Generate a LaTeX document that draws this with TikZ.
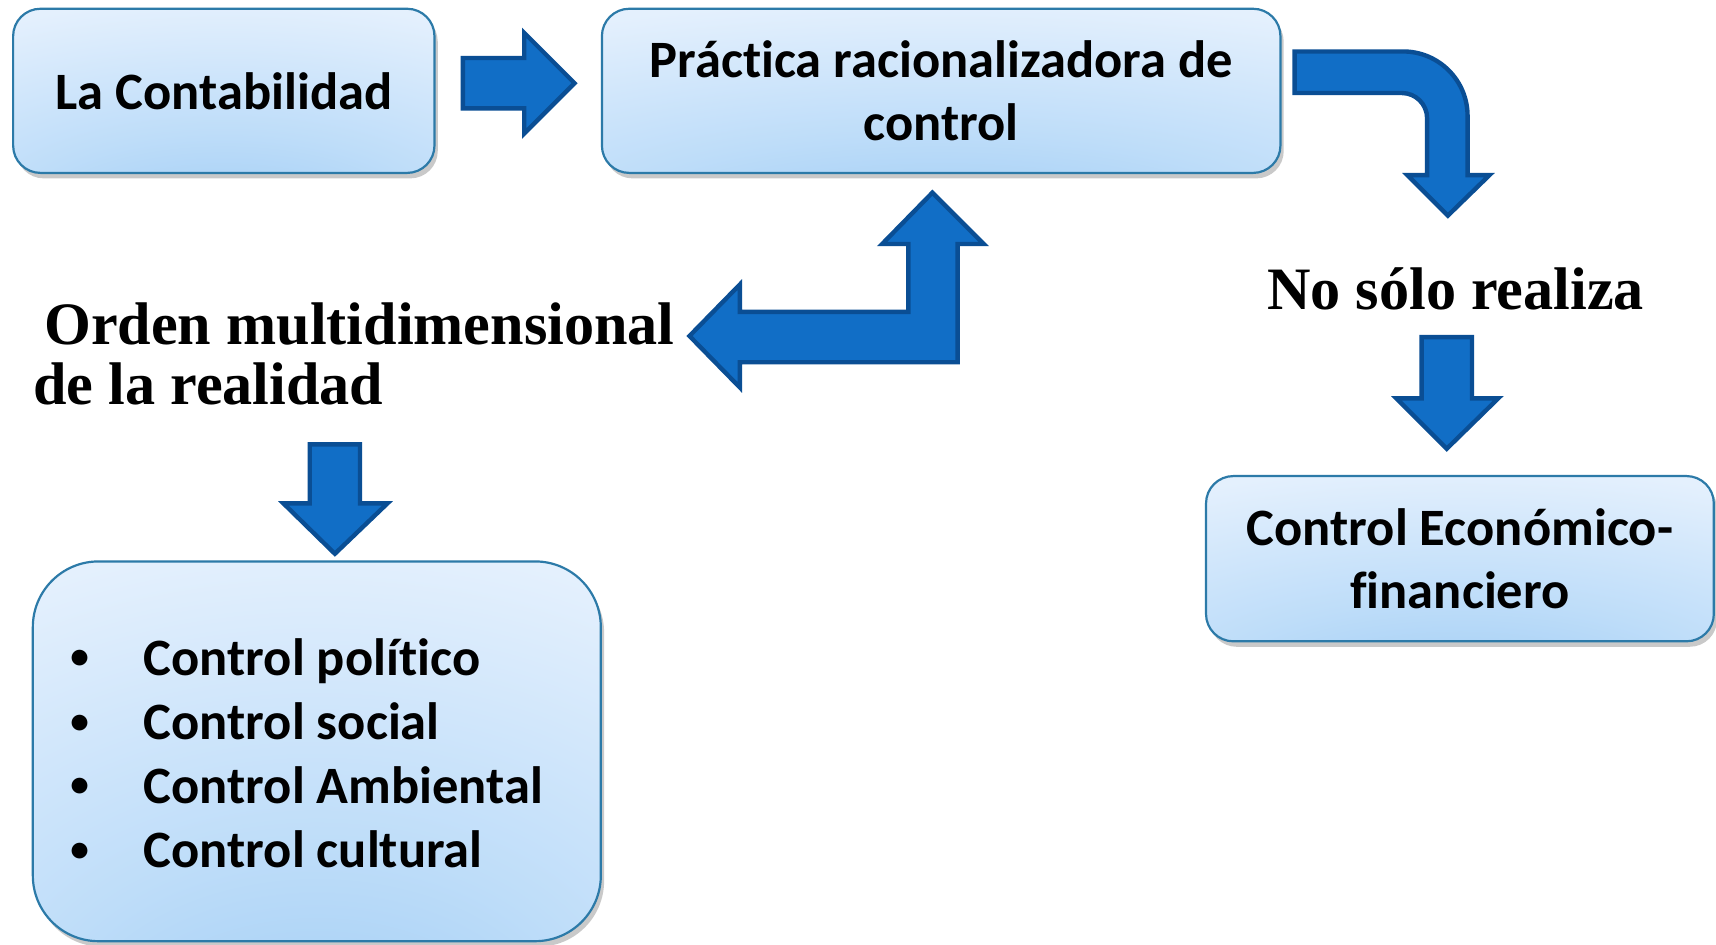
\documentclass[tikz,border=0pt]{standalone}
\usepackage{fontspec}
\setmainfont{Carlito}[Ligatures=NoCommon]
\newfontfamily\serifb{Liberation Serif}
\usetikzlibrary{shadows}
\definecolor{arrowfill}{RGB}{17,110,198}
\definecolor{arrowline}{RGB}{10,78,148}
\definecolor{boxline}{RGB}{44,122,168}
\definecolor{bmid}{RGB}{150,199,243}
\definecolor{bmidb}{RGB}{190,221,249}
\definecolor{blight}{RGB}{228,240,253}
\definecolor{bwhite}{RGB}{240,247,254}
\pgfdeclareradialshading{boxshade}{\pgfpoint{0bp}{-50bp}}{color(0bp)=(bmid); color(25bp)=(bmidb); color(52bp)=(blight); color(80bp)=(bwhite); color(100bp)=(bwhite)}
\begin{document}
\begin{tikzpicture}[x=0.5pt,y=-0.5pt,
  box/.style={draw=boxline, line width=1pt, rounded corners=12.5pt, shade, shading=boxshade,
    inner sep=0pt, align=center, font=\bfseries\fontsize{24}{29}\selectfont,
    drop shadow={shadow xshift=1.5pt, shadow yshift=-2.5pt, fill=black!60, opacity=0.35}},
  blockarrow/.style={fill=arrowfill, draw=arrowline, line width=2pt, line join=miter},
  lab/.style={inner sep=0pt, font=\serifb\bfseries\fontsize{27.5}{33}\selectfont},
  item/.style={inner sep=0pt, anchor=base west, font=\bfseries\fontsize{24}{29}\selectfont}]
\newcommand\bul{\makebox[32.5pt][l]{\hspace{-1pt}\raisebox{3pt}{\fontsize{17}{17}\selectfont •}}}
\useasboundingbox[fill=white] (0,0) rectangle (1568,863);

% boxes
\node[box, minimum width=192.5pt, minimum height=75pt] (cont) at (204.5,83) {La Contabilidad};
\node[box, minimum width=310pt, minimum height=75pt] (prac) at (860,83) {Práctica racionalizadora de\\control};
\node[box, minimum width=232pt, minimum height=75.5pt] (econ) at (1334,510.5) {Control Económico-\\financiero};
\node[box, rounded corners=30pt, minimum width=259.5pt, minimum height=173.5pt] (list) at (289.5,686.5) {};

% list items
\node[item] (b1) at (66,617) {\bul Control político};
\node[item] (b2) at (66,676) {\bul Control social};
\node[item] (b3) at (66,734) {\bul Control Ambiental};
\node[item] (b4) at (66,793) {\bul Control cultural};

% labels
\node[lab, anchor=base west] (o1) at (30,315) {\hspace{5pt}Orden multidimensional};
\node[lab, anchor=base west] (o2) at (30,370) {de la realidad};
\node[lab, anchor=base] (ns) at (1330,283) {No sólo realiza};

% block arrows
\draw[blockarrow] (423,53) -- (479,53) -- (479,30) -- (525,76) -- (479,122) -- (479,99) -- (423,99) -- cycle;
\draw[blockarrow] (1183,47) -- (1282,47) .. controls (1314.6,47) and (1341,73.4) .. (1341,106)
  -- (1341,160) -- (1361,160) -- (1323,197) -- (1286,160) -- (1304,160) -- (1304,108)
  .. controls (1304,95.3) and (1293.7,85) .. (1281,85) -- (1183,85) -- cycle;
\draw[blockarrow] (852,176) -- (899,223) -- (875,223) -- (875,331) -- (676,331) -- (676,354)
  -- (630,307) -- (676,260) -- (676,285) -- (830,285) -- (830,223) -- (806,223) -- cycle;
\draw[blockarrow] (1299,308) -- (1345,308) -- (1345,364) -- (1369,364) -- (1322,410) -- (1276,364) -- (1299,364) -- cycle;
\draw[blockarrow] (283,406) -- (329,406) -- (329,460) -- (354,460) -- (306,506) -- (259,460) -- (283,460) -- cycle;
\end{tikzpicture}
\end{document}
